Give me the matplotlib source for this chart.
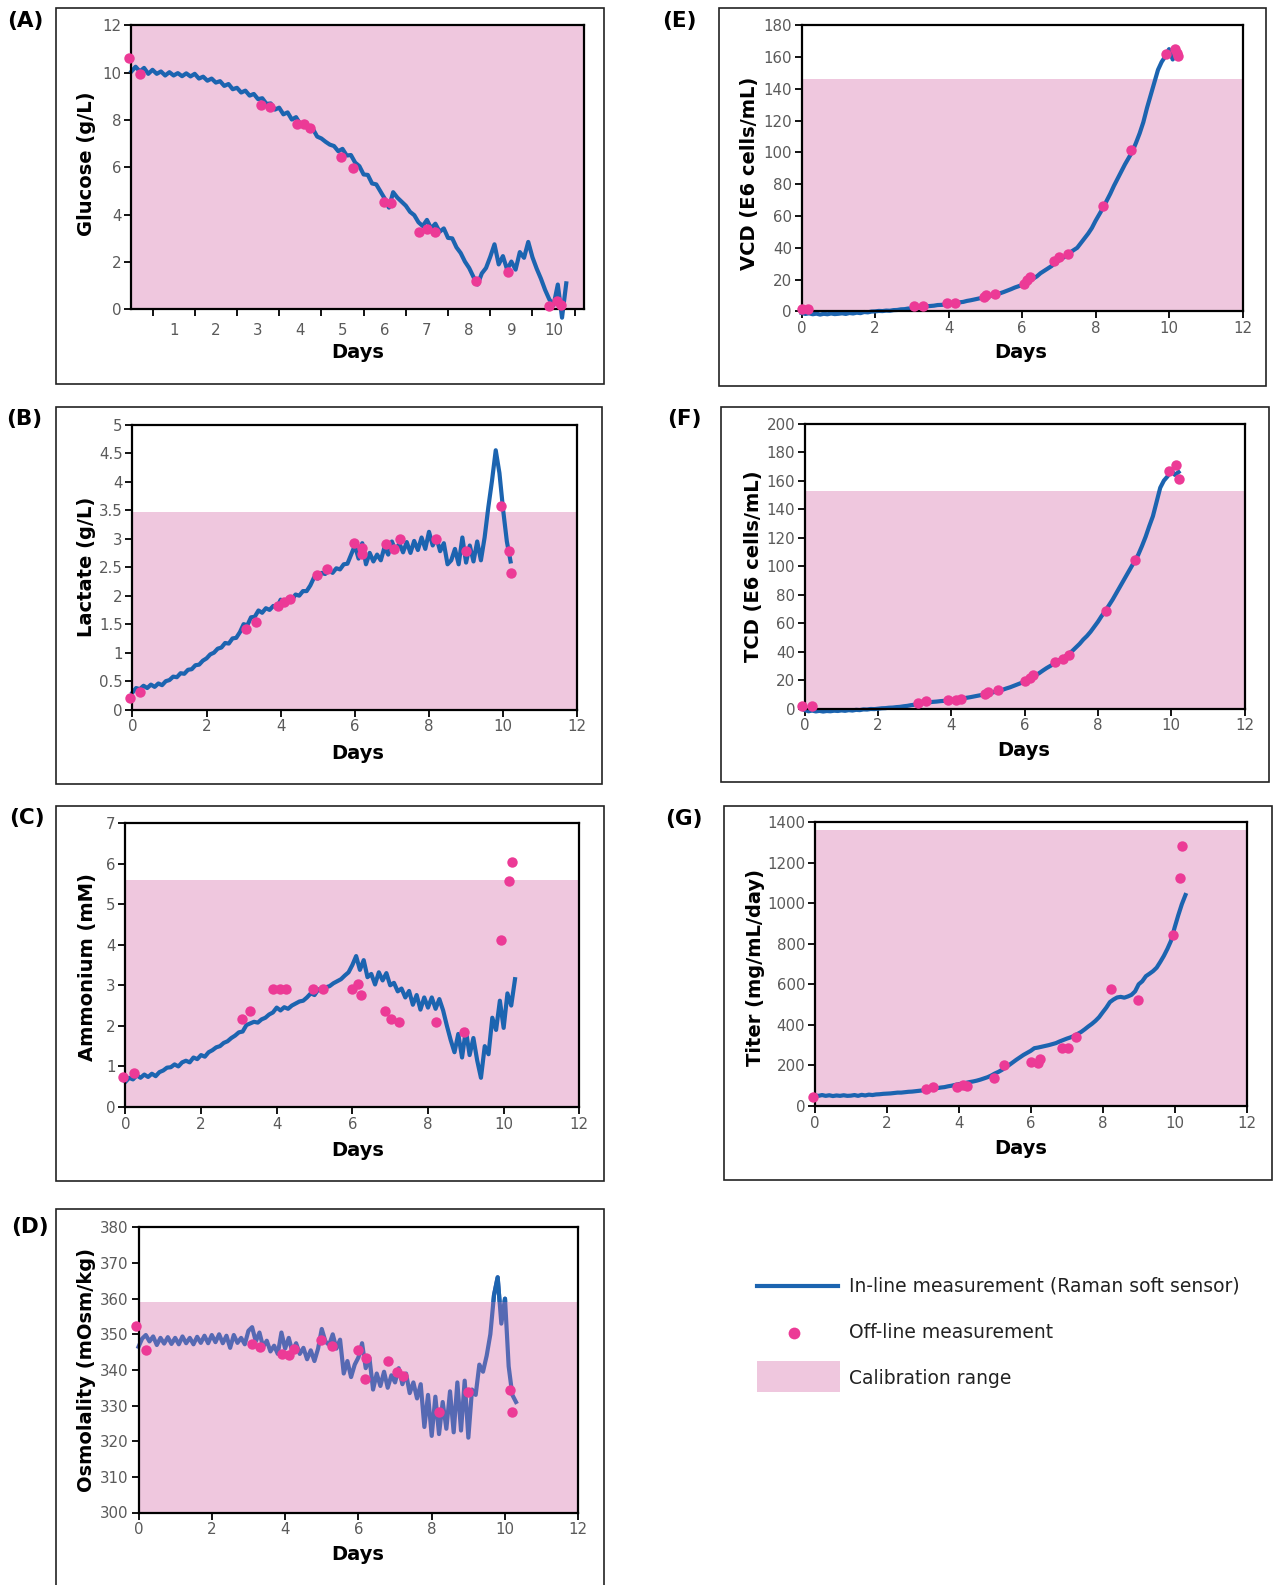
import numpy as np
import matplotlib
matplotlib.use('Agg')
import matplotlib.pyplot as plt
from matplotlib.patches import Rectangle
from matplotlib.lines import Line2D

glucose_inline = [
    10.05, 10.25, 10.05, 10.2, 9.95, 10.12, 9.95, 10.05, 9.88, 10.02,
    9.88, 9.98, 9.85, 9.97, 9.84, 9.95, 9.75, 9.83, 9.66, 9.75,
    9.58, 9.64, 9.44, 9.52, 9.3, 9.36, 9.16, 9.24, 9.03, 9.1,
    8.88, 8.92, 8.68, 8.7, 8.44, 8.52, 8.24, 8.32, 8.02, 8.12,
    7.82, 7.92, 7.62, 7.62, 7.3, 7.22, 7.08, 6.96, 6.9, 6.68,
    6.78, 6.5, 6.52, 6.2, 6.05, 5.7, 5.68, 5.32, 5.28, 4.98,
    4.68, 4.3, 4.95, 4.72, 4.55, 4.38, 4.12, 3.98, 3.68, 3.52,
    3.78, 3.42, 3.62, 3.28, 3.42, 3.02, 3.0, 2.62, 2.38, 2.02,
    1.75, 1.38, 1.05, 1.52, 1.75, 2.22, 2.75, 1.9, 2.25, 1.68,
    2.02, 1.68, 2.42, 2.18, 2.85, 2.2, 1.72, 1.3, 0.82, 0.42,
    0.18, 1.05, -0.35, 1.1]
glucose_off_days = [-0.06, 0.21, 3.07, 3.28, 3.93, 4.08, 4.22, 4.96, 5.24, 5.98,
                    6.16, 6.81, 7.0, 7.19, 8.17, 8.92, 9.89, 10.08, 10.17]
glucose_off = [10.6, 9.94, 8.65, 8.55, 7.83, 7.82, 7.68, 6.43, 5.99, 4.53,
               4.48, 3.26, 3.4, 3.26, 1.18, 1.57, 0.13, 0.36, 0.2]

lactate_inline = [
    0.3, 0.38, 0.36, 0.42, 0.38, 0.44, 0.4, 0.46, 0.43, 0.5,
    0.52, 0.58, 0.57, 0.64, 0.63, 0.7, 0.71, 0.78, 0.79, 0.86,
    0.9, 0.97, 1.0, 1.07, 1.09, 1.17, 1.16, 1.25, 1.26, 1.36,
    1.5, 1.48, 1.62, 1.63, 1.74, 1.7, 1.78, 1.75, 1.82, 1.8,
    1.93, 1.86, 1.96, 1.92, 2.02, 2.0, 2.08, 2.08, 2.18, 2.32,
    2.3, 2.4, 2.38, 2.44, 2.4, 2.48, 2.46, 2.55, 2.56, 2.72,
    2.88, 2.65, 2.92, 2.55, 2.75, 2.6, 2.72, 2.62, 2.85, 2.72,
    2.95, 2.78, 2.92, 2.76, 2.94, 2.75, 2.96, 2.8, 3.02, 2.82,
    3.12, 2.88, 3.02, 2.78, 2.92, 2.55, 2.62, 2.82, 2.55, 3.02,
    2.58, 2.88, 2.6, 2.95, 2.62, 3.02, 3.55, 4.02, 4.55, 4.15,
    3.5, 2.95, 2.6]
lactate_off_days = [-0.07, 0.21, 3.06, 3.33, 3.92, 4.1, 4.25, 4.98, 5.26, 5.99,
                    6.18, 6.2, 6.83, 7.06, 7.23, 8.18, 9.0, 9.95, 10.16, 10.21]
lactate_off = [0.2, 0.31, 1.42, 1.54, 1.81, 1.89, 1.95, 2.36, 2.46, 2.93,
               2.83, 2.73, 2.91, 2.82, 3.0, 2.99, 2.79, 3.57, 2.79, 2.4]

ammonium_inline = [
    0.62, 0.72, 0.68, 0.78, 0.72, 0.8, 0.74, 0.82, 0.76, 0.86,
    0.9, 0.97, 0.98, 1.05, 1.0, 1.1, 1.14, 1.1, 1.22, 1.18,
    1.28, 1.24, 1.35, 1.4, 1.47, 1.5, 1.58, 1.62, 1.7, 1.76,
    1.84, 1.86, 2.02, 2.06, 2.1, 2.08, 2.16, 2.2, 2.28, 2.33,
    2.45, 2.38, 2.46, 2.42, 2.5, 2.55, 2.6, 2.62, 2.7, 2.8,
    2.76, 2.9, 2.85, 2.95, 2.98, 3.05, 3.1, 3.15, 3.24, 3.32,
    3.5, 3.72, 3.38, 3.62, 3.2, 3.28, 3.02, 3.32, 3.12, 3.3,
    3.0, 3.06, 2.85, 2.92, 2.7, 2.86, 2.52, 2.76, 2.4, 2.7,
    2.45, 2.7, 2.42, 2.66, 2.38, 2.0, 1.65, 1.35, 1.8, 1.22,
    1.9, 1.28, 1.7, 1.15, 0.72, 1.5, 1.3, 2.2, 1.9, 2.62,
    1.95, 2.8, 2.5, 3.15]
ammonium_off_days = [-0.07, 0.22, 3.09, 3.3, 3.89, 4.08, 4.24, 4.96, 5.23, 6.0,
                     6.15, 6.23, 6.86, 7.03, 7.23, 8.2, 8.94, 9.93, 10.13, 10.22]
ammonium_off = [0.73, 0.84, 2.17, 2.37, 2.91, 2.91, 2.91, 2.92, 2.92, 2.92,
                3.04, 2.75, 2.37, 2.17, 2.1, 2.1, 1.84, 4.12, 5.58, 6.05]

osmo_inline = [
    346.5, 348.8, 349.8, 348.0, 349.4, 347.0, 349.0, 347.4, 349.2, 347.3,
    349.0, 347.2, 349.4, 347.5, 349.0, 347.2, 349.3, 347.6, 349.6, 347.5,
    349.8, 347.8, 350.0, 347.5, 349.6, 346.2, 349.8, 347.6, 349.0, 347.2,
    351.0, 352.0, 348.0, 350.5, 346.5, 348.2, 345.2, 346.8, 344.5, 350.5,
    346.0, 349.0, 345.0, 347.5, 344.5, 346.2, 343.0, 345.5, 342.5, 346.0,
    351.5, 348.0, 347.0, 350.0, 346.0, 348.5, 339.0, 342.5, 338.0, 341.5,
    343.5, 347.5, 340.5, 343.5, 334.5, 339.0, 335.5, 339.5, 335.0, 338.5,
    336.5, 340.5, 336.0, 339.0, 333.5, 336.5, 332.0, 336.0, 324.0, 333.0,
    321.5, 332.5, 322.0, 331.0, 323.5, 334.0, 322.5, 336.5, 323.0, 337.0,
    321.0, 334.5, 333.0, 341.5, 339.5, 344.0, 350.0, 361.0, 366.0, 353.0,
    360.0, 341.0, 333.0, 331.0]
osmo_off_days = [-0.06, 0.2, 3.11, 3.32, 3.91, 4.1, 4.23, 4.99, 5.27, 6.0,
                 6.17, 6.22, 6.82, 7.04, 7.22, 8.21, 8.99, 10.13, 10.2]
osmo_off = [352.3, 345.5, 347.4, 346.5, 344.4, 344.3, 345.8, 348.3, 346.7, 345.6,
            337.6, 343.4, 342.5, 339.3, 338.3, 328.3, 333.7, 334.5, 328.3]

vcd_inline = [
    -1.0, -1.6, -1.2, -1.8, -1.4, -2.0, -1.5, -1.8, -1.3, -1.7,
    -1.5, -1.2, -1.6, -1.0, -1.3, -0.8, -1.1, -0.4, -0.6, -0.1,
    0.0, 0.3, 0.2, 0.5, 0.4, 0.8, 0.9, 1.3, 1.4, 1.8,
    1.8, 2.4, 2.6, 3.0, 3.2, 3.4, 3.6, 4.0, 4.1, 4.3,
    4.5, 5.0, 5.2, 5.7, 6.0, 6.6, 7.0, 7.5, 8.0, 8.5,
    9.0, 9.6, 10.2, 10.7, 11.4, 12.2, 13.1, 14.0, 15.0, 15.8,
    16.6, 18.2, 19.5, 20.6, 22.0, 24.0, 25.5, 27.0, 28.5, 30.5,
    32.0, 33.5, 35.0, 37.0, 38.5, 40.0, 43.0, 46.0, 49.0, 52.5,
    57.0, 61.0, 65.0, 69.5, 74.0, 79.0, 83.5, 88.0, 92.5, 96.5,
    100.5, 106.0, 112.0, 119.0, 128.0, 136.0, 144.0, 152.0, 157.0, 160.5,
    165.0, 158.5, 162.0]
vcd_off_days = [0.0, 0.18, 3.06, 3.3, 3.95, 4.18, 4.95, 5.03, 5.26, 6.04,
                6.13, 6.21, 6.86, 7.01, 7.24, 8.2, 8.97, 9.93, 10.15, 10.21, 10.25]
vcd_off = [1.3, 1.3, 3.2, 3.2, 5.3, 5.3, 9.1, 10.1, 11.2, 17.1,
           19.6, 21.7, 31.4, 34.3, 36.4, 66.3, 101.7, 161.7, 164.8, 162.7, 160.6]

tcd_inline = [
    -1.0, -1.8, -1.3, -1.9, -1.5, -2.0, -1.6, -1.8, -1.4, -1.6,
    -1.2, -1.5, -1.0, -1.3, -0.8, -1.0, -0.5, -0.6, -0.2, -0.3,
    0.0, 0.3, 0.4, 0.7, 0.8, 1.1, 1.3, 1.7, 2.0, 2.5,
    2.8, 3.4, 3.8, 4.2, 4.5, 4.8, 5.0, 5.3, 5.5, 5.8,
    6.0, 6.4, 6.8, 7.2, 7.6, 8.0, 8.5, 9.0, 9.5, 10.0,
    10.5, 11.2, 11.9, 12.6, 13.3, 14.2, 15.0, 16.0, 17.0, 18.0,
    19.0, 20.5, 22.0, 23.5, 25.0, 26.8, 28.5, 30.0, 31.5, 33.5,
    35.0, 36.5, 38.5, 40.5, 43.0, 45.5, 48.5, 51.0, 54.0, 57.5,
    61.0, 65.0, 68.5, 72.5, 76.5, 81.0, 85.5, 90.0, 94.5, 99.0,
    103.5, 108.0, 114.0, 120.5, 128.0, 135.0, 145.0, 155.0, 160.0, 163.0,
    167.5, 164.0, 166.0]
tcd_off_days = [-0.07, 0.2, 3.09, 3.3, 3.91, 4.12, 4.27, 4.93, 5.01, 5.27,
                6.01, 6.14, 6.22, 6.83, 7.04, 7.21, 8.22, 9.0, 9.95, 10.13, 10.21]
tcd_off = [2.1, 1.9, 4.0, 5.6, 6.1, 6.1, 6.8, 10.1, 11.7, 12.9,
           19.2, 21.5, 23.4, 32.7, 35.1, 37.4, 68.3, 104.1, 166.5, 171.2, 160.9]

titer_inline = [
    52, 50, 54, 50, 53, 49, 52, 50, 53, 50,
    51, 54, 50, 55, 52, 56, 54, 57, 58, 60,
    61, 62, 64, 66, 66, 68, 70, 71, 73, 75,
    77, 80, 82, 86, 88, 91, 93, 97, 100, 104,
    108, 110, 114, 118, 121, 125, 130, 136, 142, 150,
    160, 168, 178, 190, 202, 215, 228, 240, 252, 262,
    272, 285, 288, 292, 296, 300, 305, 310, 318, 325,
    332, 338, 345, 355, 365, 378, 392, 405, 420, 438,
    462, 485, 512, 525, 535, 538, 534, 540, 548, 565,
    600, 615, 640, 652, 665, 682, 710, 740, 775, 815,
    880, 940, 995, 1040]
titer_off_days = [-0.06, 3.1, 3.29, 3.95, 4.12, 4.23, 4.98, 5.27, 6.02, 6.19,
                  6.26, 6.86, 7.03, 7.26, 8.22, 8.97, 9.95, 10.16, 10.21]
titer_off = [46, 82, 92, 92, 102, 98, 140, 200, 217, 213,
             230, 287, 287, 341, 576, 522, 842, 1124, 1280]

# ---- style ----
W, H = 1274, 1585
PINK = '#efc7de'
BLUE = '#1c64b0'
PURPLE = '#5669b3'
MAG = '#ec3a96'
GREY = '#5a5a5a'
LW = 3.0

fig = plt.figure(figsize=(W / 100, H / 100), dpi=100)


def fig_text(x, y, s, **kw):
    fig.text(x / W, 1 - y / H, s, **kw)


def panel(ax_box, frame_box, letter, letter_xy, ylabel, ylabel_xy, days_xy,
          inline, off_days, off_vals, ylim, ystep, cal_top, xlim=(0, 12),
          osmo=False):
    l, t, r, b = frame_box
    fig.add_artist(Rectangle((l / W, 1 - b / H), (r - l) / W, (b - t) / H,
                             transform=fig.transFigure, fill=False,
                             ec='#222222', lw=1.2))
    l, t, r, b = ax_box
    ax = fig.add_axes([l / W, 1 - b / H, (r - l) / W, (b - t) / H])
    ax.set_xlim(*xlim)
    ax.set_ylim(*ylim)
    ax.axhspan(ylim[0], cal_top, color=PINK, lw=0, zorder=0)
    days = np.arange(len(inline)) / 10
    if osmo:
        # inside the calibration band the trace looks tinted, above it plain blue
        ax.plot(days, inline, color=PURPLE, lw=LW, zorder=2, clip_on=False)
        top = ax.plot(days, inline, color=BLUE, lw=LW, zorder=2.5)[0]
        clip = Rectangle((xlim[0], cal_top), xlim[1] - xlim[0], ylim[1] - cal_top,
                         transform=ax.transData)
        top.set_clip_path(clip)
    else:
        ax.plot(days, inline, color=BLUE, lw=LW, zorder=2, clip_on=False)
    ax.plot(off_days, off_vals, 'o', color=MAG, ms=7.5, mec='none', zorder=3,
            clip_on=False)
    ax.set_yticks(np.arange(ylim[0], ylim[1] + ystep / 2, ystep))
    ax.yaxis.set_major_formatter(plt.FuncFormatter(lambda v, p: '%g' % v))
    for sp in ax.spines.values():
        sp.set_linewidth(1.6)
        sp.set_color('black')
    ax.tick_params(direction='out', length=5, width=1.3, color='black',
                   labelsize=10.8, labelcolor=GREY, pad=2)
    fig_text(*letter_xy, letter, ha='left', va='center', fontsize=15.5,
             fontweight='bold')
    fig_text(*ylabel_xy, ylabel, ha='center', va='center', rotation=90,
             fontsize=14, fontweight='bold')
    fig_text(*days_xy, 'Days', ha='center', va='center', fontsize=14,
             fontweight='bold')
    return ax


# (A) glucose: labels sit between the tick marks
axA = panel((131.4, 25.3, 584.4, 309.4), (55.6, 8.1, 603.6, 384.2), '(A)', (7.5, 20.5),
            'Glucose (g/L)', (86, 164), (358, 352),
            glucose_inline, glucose_off_days, glucose_off, (0, 12), 2, 12,
            xlim=(0, 10.73))
axA.set_xticks(np.arange(0.5, 10.6, 1.0))
axA.set_xticklabels([])
axA.set_xticks(np.arange(1, 11), minor=True)
axA.set_xticklabels([str(d) for d in range(1, 11)], minor=True)
axA.tick_params(axis='x', which='minor', length=0, pad=10, labelsize=10.8,
                labelcolor=GREY)

axB = panel((132.4, 424.6, 577.3, 709.7), (55.6, 407.4, 601.5, 783.5), '(B)', (6, 419),
            'Lactate (g/L)', (86, 567), (358, 753),
            lactate_inline, lactate_off_days, lactate_off, (0, 5), 0.5, 3.47)
axC = panel((125.4, 823, 579.3, 1107), (55.6, 805.8, 603.6, 1180.8), '(C)', (9.5, 818),
            'Ammonium (mM)', (87, 967), (358, 1150.5),
            ammonium_inline, ammonium_off_days, ammonium_off, (0, 7), 1, 5.6)
axD = panel((138.5, 1227.4, 578.3, 1512.5), (55.6, 1209, 603.6, 1610), '(D)', (11, 1226.5),
            'Osmolality (mOsm/kg)', (86, 1370), (358, 1555),
            osmo_inline, osmo_off_days, osmo_off, (300, 380), 10, 359, osmo=True)
axE = panel((801.7, 25.3, 1242.5, 311.4), (718.8, 8.1, 1265.8, 386.2), '(E)', (662, 20.5),
            'VCD (E6 cells/mL)', (750, 173), (1021, 352),
            vcd_inline, vcd_off_days, vcd_off, (0, 180), 20, 146.5)
axF = panel((804.8, 423.6, 1244.5, 708.7), (720.8, 407.4, 1268.8, 781.5), '(F)', (667, 419),
            'TCD (E6 cells/mL)', (753, 566), (1024, 751),
            tcd_inline, tcd_off_days, tcd_off, (0, 200), 20, 152.5)
axG = panel((814.9, 822, 1246.6, 1106), (723.9, 805.8, 1271.8, 1179.8), '(G)', (665, 819),
            'Titer (mg/mL/day)', (755, 968), (1021, 1148.5),
            titer_inline, titer_off_days, titer_off, (0, 1400), 200, 1359)

for ax in (axB, axC, axD, axE, axF, axG):
    ax.set_xticks(np.arange(0, 13, 2))

# ---- legend ----
fig.add_artist(Line2D([757 / W, 838 / W], [1 - 1286 / H, 1 - 1286 / H],
                      transform=fig.transFigure, color=BLUE, lw=3))
fig.add_artist(Line2D([793.6 / W], [1 - 1332.5 / H], transform=fig.transFigure,
                      marker='o', ms=8.5, color=MAG, mec='none', lw=0))
fig.add_artist(Rectangle((757 / W, 1 - 1392 / H), 83 / W, 31 / H,
                         transform=fig.transFigure, color=PINK, lw=0))
fig_text(849, 1286, 'In-line measurement (Raman soft sensor)', ha='left', va='center',
         fontsize=13.5, color='#222222')
fig_text(849, 1332.5, 'Off-line measurement', ha='left', va='center',
         fontsize=13.5, color='#222222')
fig_text(849, 1379, 'Calibration range', ha='left', va='center',
         fontsize=13.5, color='#222222')

fig.savefig('out.png', dpi=100)
